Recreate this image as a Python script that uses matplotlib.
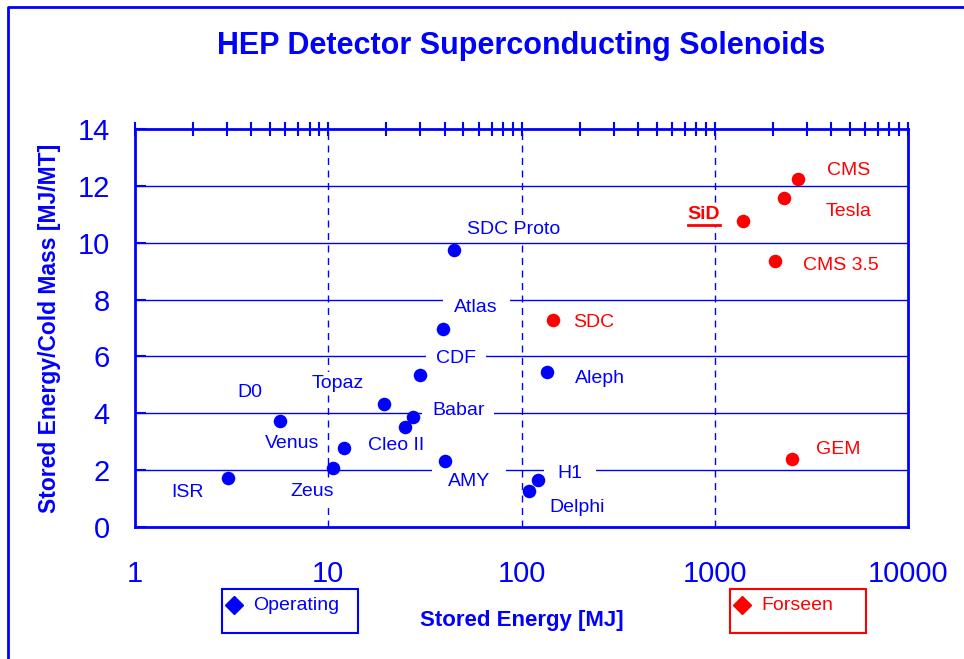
import matplotlib
matplotlib.use("Agg")
import matplotlib.pyplot as plt
from matplotlib.lines import Line2D
from matplotlib.patches import Rectangle
from matplotlib.ticker import FixedLocator, FixedFormatter, NullFormatter, LogLocator
from matplotlib.transforms import IdentityTransform

plt.rcParams['font.family'] = ['Liberation Sans', 'DejaVu Sans']

# ---- data ----
op_names = ["ISR", "D0", "Venus", "Zeus", "Topaz", "Cleo II", "Babar", "CDF",
            "Atlas", "SDC Proto", "AMY", "Delphi", "H1", "Aleph"]
op_energy = [3.03, 5.63, 12.06, 10.58, 19.4, 24.96, 27.5, 29.8,
             39.3, 44.7, 40.2, 109.4, 121.7, 135.5]
op_ratio = [1.72, 3.73, 2.78, 2.08, 4.33, 3.52, 3.87, 5.35,
            6.96, 9.74, 2.32, 1.27, 1.65, 5.45]

fs_names = ["SDC", "SiD", "Tesla", "CMS", "CMS 3.5", "GEM"]
fs_energy = [145.6, 1400, 2283, 2697, 2050, 2510]
fs_ratio = [7.28, 10.76, 11.57, 12.24, 9.36, 2.39]

x_ticks = [1, 10, 100, 1000, 10000]
x_tick_labels = ["1", "10", "100", "1000", "10000"]
y_ticks = [0, 2, 4, 6, 8, 10, 12, 14]

# ---- label offsets (pixels, relative to point) ----
offsets = {
    "ISR": (-41, -14), "D0": (-30, 28), "Venus": (-52, 4), "Zeus": (-21, -24),
    "Topaz": (-46, 20), "Cleo II": (-9, -19), "Babar": (45, 6), "CDF": (36, 16),
    "Atlas": (33, 22), "SDC Proto": (60, 21), "AMY": (24, -20), "Delphi": (48, -17),
    "H1": (32, 7), "Aleph": (53, -6), "SDC": (41, -2), "SiD": (-39, 7),
    "Tesla": (65, -13), "CMS": (51, 9), "CMS 3.5": (66, -5), "GEM": (46, 10),
}
box_pad = {"Babar": 0.5, "CDF": 0.5, "Atlas": 0.6, "AMY": 0.8, "H1": 0.7}

BLUE = "#0000FF"
RED = "#FF0000"

fig = plt.figure(figsize=(9.64, 6.59), dpi=100)
ax = fig.add_axes([135 / 964, 1 - 527 / 659, 773 / 964, 398 / 659])
ax.set_xscale("log")
ax.set_xlim(1, 10000)
ax.set_ylim(0, 14)

# grid
for yv in y_ticks[1:-1]:
    ax.axhline(yv, color=BLUE, lw=1.0, zorder=1)
for xv in x_ticks[1:-1]:
    ax.axvline(xv, color=BLUE, lw=1.0, ls=(0, (5, 4)), zorder=1)

for s in ax.spines.values():
    s.set_color(BLUE)
    s.set_linewidth(2)

ax.xaxis.set_major_locator(FixedLocator(x_ticks))
ax.xaxis.set_major_formatter(FixedFormatter(x_tick_labels))
ax.xaxis.set_minor_locator(LogLocator(base=10, subs=range(2, 10)))
ax.xaxis.set_minor_formatter(NullFormatter())
ax.tick_params(axis="x", which="both", top=True, bottom=False, labelbottom=True,
               direction="inout", length=10, width=1.5, color=BLUE,
               labelcolor=BLUE, labelsize=21, pad=18.5)
ax.set_yticks(y_ticks)
ax.tick_params(axis="y", which="both", left=True, right=False, direction="in",
               length=8, width=1.5, color=BLUE, labelcolor=BLUE, labelsize=21, pad=18)

ax.scatter(op_energy, op_ratio, s=95, color=BLUE, zorder=4, linewidths=0)
ax.scatter(fs_energy, fs_ratio, s=95, color=RED, zorder=4, linewidths=0)

texts = {}
for names, xs, ys, col in [(op_names, op_energy, op_ratio, BLUE),
                           (fs_names, fs_energy, fs_ratio, RED)]:
    for n, xv, yv in zip(names, xs, ys):
        dx, dy = offsets[n]
        bold = (n == "SiD")
        t = ax.annotate(n, (xv, yv), xytext=(dx, dy), textcoords="offset pixels",
                        ha="center", va="center", fontsize=14, color=col,
                        fontweight="bold" if bold else "normal", zorder=3,
                        bbox=dict(boxstyle="square,pad=%.2f" % box_pad.get(n, 0.15),
                                  facecolor="white", edgecolor="none"))
        texts[n] = t

ax.set_title("HEP Detector Superconducting Solenoids", fontsize=22,
             fontweight="bold", color=BLUE, pad=54)
ax.set_xlabel("Stored Energy [MJ]", fontsize=16, fontweight="bold", color=BLUE,
              labelpad=16)
ax.set_ylabel("Stored Energy/Cold Mass [MJ/MT]", fontsize=16.5, fontweight="bold",
              color=BLUE, labelpad=12)

# legend boxes
for (x0, col, lab) in [(222, BLUE, "Operating"), (730, RED, "Forseen")]:
    fig.add_artist(Rectangle((x0 / 964, 1 - 633 / 659), 136 / 964, 44 / 659,
                             transform=fig.transFigure, fill=False,
                             edgecolor=col, lw=1.5))
    fig.add_artist(Line2D([(x0 + 12) / 964], [1 - 605 / 659], marker="D",
                          color=col, ms=9, ls="none", transform=fig.transFigure))
    fig.text((x0 + 31) / 964, 1 - 605 / 659, lab, fontsize=14, color=col,
             ha="left", va="center")

# figure border
fig.add_artist(Line2D([8 / 964, 8 / 964, 1.0], [0, 1 - 7 / 659, 1 - 7 / 659],
                      transform=fig.transFigure, color=BLUE, lw=2))

# underline SiD
fig.canvas.draw()
bb = texts["SiD"].get_window_extent()
fig.add_artist(Line2D([bb.x0, bb.x1], [bb.y0 - 2, bb.y0 - 2],
                      transform=IdentityTransform(), color=RED, lw=2))

fig.savefig("out.png", dpi=100)
